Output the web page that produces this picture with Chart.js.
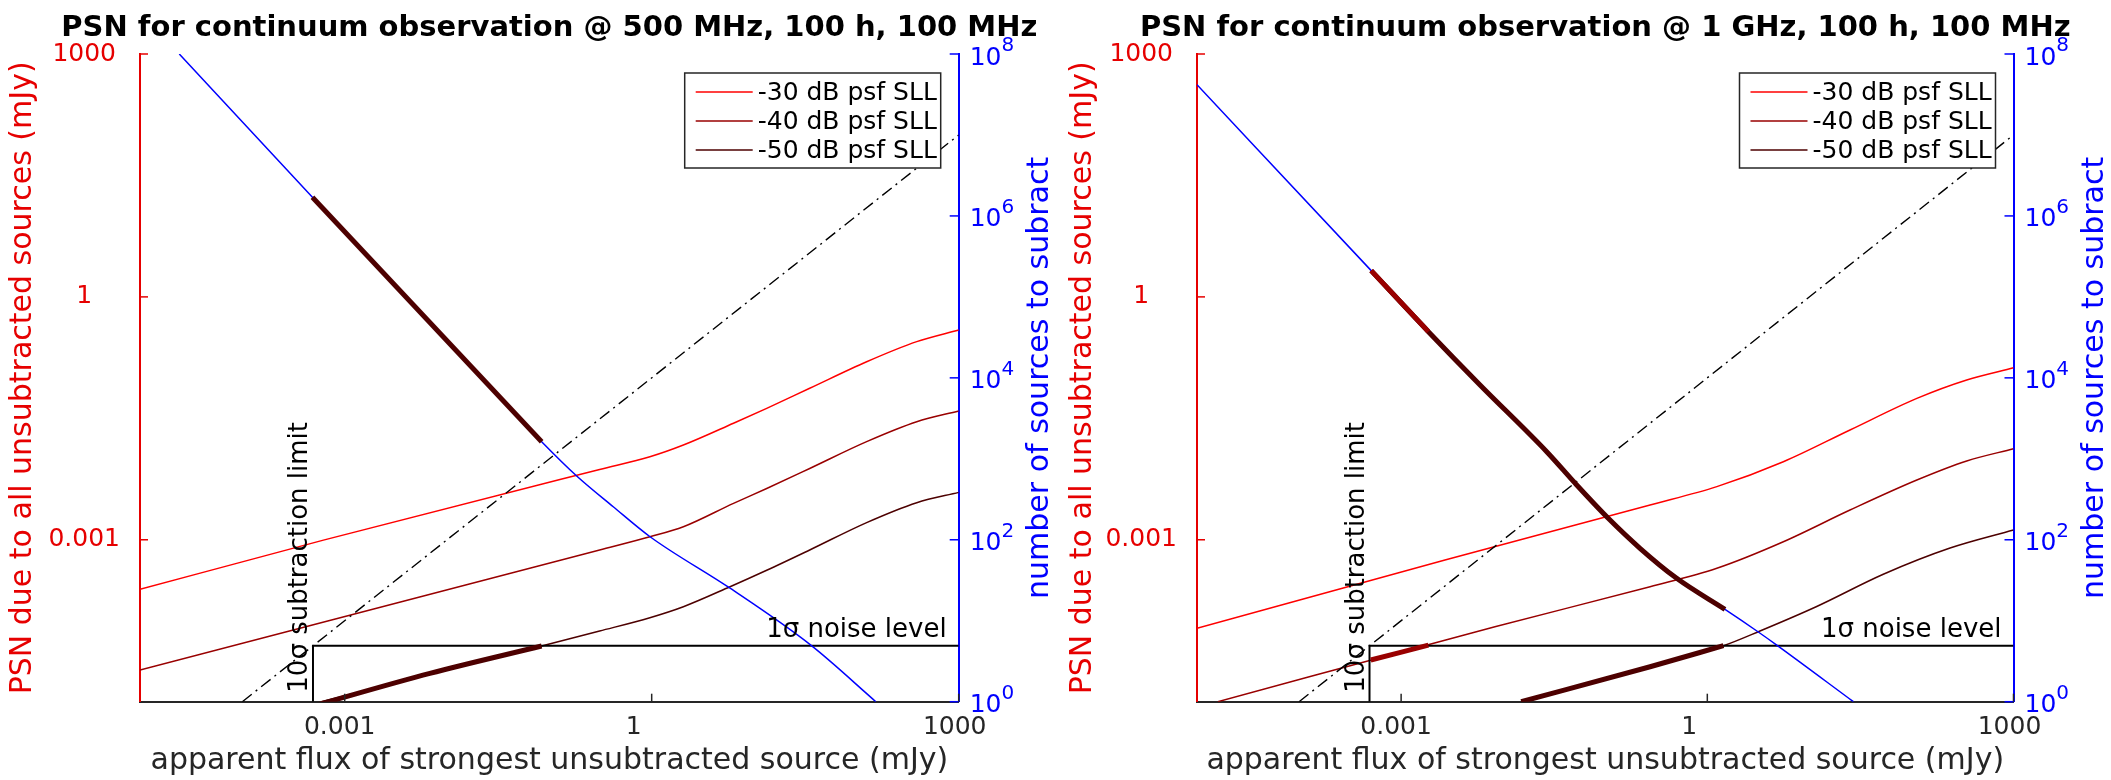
<!DOCTYPE html>
<html>
<head>
<meta charset="utf-8">
<script src="https://cdn.jsdelivr.net/npm/chart.js@4.4.1/dist/chart.umd.min.js"></script>
<style>
    body { margin: 0; background: #fff; }
    #wrap { position: relative; width: 2111px; height: 780px; }
    canvas { position: absolute; top: 0; }
</style>
</head>
<body>
<div id="wrap">
    <canvas id="chart500" width="1058" height="780" style="left:0"></canvas>
    <canvas id="chart1000" width="1053" height="780" style="left:1058px"></canvas>
</div>
<script>
// Valores (flujo en mJy, PSN en mJy, número de fuentes)

// Ejes y etiquetas
const fluxTicks = [0.001, 1, 1000];
const fluxTickLabels = ['0.001', '1', '1000'];
const psnTicks = [0.001, 1, 1000];
const psnTickLabels = ['0.001', '1', '1000'];
const countTicks = [1, 1e2, 1e4, 1e6, 1e8];
const countTickExp = ['0', '2', '4', '6', '8'];

const legendLabels = ['-30 dB psf SLL', '-40 dB psf SLL', '-50 dB psf SLL'];
const xTitle = 'apparent flux of strongest unsubtracted source (mJy)';
const psnTitle = 'PSN due to all unsubtracted sources (mJy)';
const countTitle = 'number of sources to subract';

// Ruido y límite de sustracción
const sigma = 4.9e-5;
const subLimit = 4.9e-4;
const noiseBoxFlux = [subLimit, subLimit, 1000];
const noiseBoxPsn = [1e-5, sigma, sigma];
const fluxDash = [1e-4, 1000];
const psnDash = [1e-5, 100];

/*******
 500 MHz
*******/
const fluxA30 = [1e-5, 6.2e-4, 0.31, 0.96, 2.04, 6.3, 13.3, 35, 126, 389, 1000];
const psnA30 = [2.44e-4, 9.9e-4, 7.4e-3, 0.0106, 0.0148, 0.0275, 0.042, 0.0743, 0.158, 0.280, 0.39];
const fluxA40 = [1e-5, 0.31, 0.96, 2.04, 6.3, 13.3, 35, 126, 389, 1000];
const psnA40 = [2.47e-5, 7.48e-4, 1.09e-3, 1.45e-3, 2.82e-3, 4.3e-3, 7.6e-3, 0.0163, 0.0287, 0.039];
const fluxA50 = [5.9e-4, 0.084, 0.31, 0.96, 2.04, 5.83, 13.3, 35, 126, 389, 1000];
const psnA50 = [1e-5, 4.88e-5, 7.46e-5, 1.09e-4, 1.49e-4, 2.63e-4, 4.2e-4, 7.48e-4, 1.63e-3, 2.87e-3, 3.85e-3];
const fluxA50Thick = [4.84e-4, 6.8e-3, 0.084];
const psnA50Thick = [8.8e-6, 2.24e-5, 4.88e-5];
const fluxANum = [2.42e-5, 4.84e-4, 0.0841, 0.185, 0.421, 0.964, 5.83, 36.4, 155];
const numA = [1e8, 1.70e6, 1627, 614, 256, 109, 25.2, 4.92, 1];
const fluxANumThick = [4.84e-4, 0.0841];
const numAThick = [1.70e6, 1627];

/*******
 1 GHz
*******/
const fluxB30 = [1e-5, 2.69e-3, 0.275, 1.24, 5.56, 25, 113, 348, 1000];
const psnB30 = [8.07e-5, 5.62e-4, 2.69e-3, 4.53e-3, 9.2e-3, 0.0227, 0.0558, 0.0942, 0.133];
const fluxB40 = [1.6e-5, 8.3e-3, 0.275, 1.24, 5.56, 25, 113, 348, 1000];
const psnB40 = [1e-5, 8.43e-5, 2.63e-4, 4.45e-4, 9.46e-4, 2.33e-3, 5.47e-3, 9.4e-3, 0.0133];
const fluxB50 = [0.015, 0.275, 1.44, 3.28, 11.8, 53, 239, 1000];
const psnB50 = [1e-5, 2.7e-5, 4.92e-5, 7.47e-5, 1.5e-4, 3.75e-4, 7.9e-4, 1.32e-3];
const fluxB40Thick = [5.04e-4, 1.85e-3];
const psnB40Thick = [3.27e-5, 5.0e-5];
const fluxB50Thick = [0.015, 0.275, 1.44];
const psnB50Thick = [1e-5, 2.7e-5, 4.92e-5];
const fluxBNum = [1e-5, 5.09e-4, 1.85e-3, 5.93e-3, 0.0267, 0.0525, 0.107, 0.219, 0.501, 1.49, 3.16, 4.79, 27];
const numB = [4.18e7, 2.11e5, 3.72e4, 8166, 1224, 475, 184, 78.5, 33.4, 13.8, 7.26, 5.0, 1];
const fluxBNumThick40 = [5.09e-4, 1.85e-3];
const numBThick40 = [2.11e5, 3.72e4];
const fluxBNumThick50 = [5.09e-4, 1.85e-3, 5.93e-3, 0.0267, 0.0525, 0.107, 0.219, 0.501, 1.49];
const numBThick50 = [2.11e5, 3.72e4, 8166, 1224, 475, 184, 78.5, 33.4, 13.8];

// Colores
const sllColors = ['#ff0000', '#990000', '#4d0000'];
const psnColor = '#e60000';
const countColor = '#0000ff';
const axisGrey = '#262626';
const FONT = '"DejaVu Sans", sans-serif';

// En la figura las etiquetas del eje x quedan algo a la izquierda de su marca
const xLabelNudge = [-5, -18, -4];

Chart.defaults.font.family = FONT;

const pts = (xs, ys) => xs.map((x, i) => ({ x: x, y: ys[i] }));

function serie(xs, ys, color, width, axis, order, extra) {
    return Object.assign({
        data: pts(xs, ys),
        borderColor: color,
        borderWidth: width,
        yAxisID: axis,
        order: order,
        showLine: true,
        pointRadius: 0,
        fill: false,
        borderCapStyle: 'butt',
        cubicInterpolationMode: 'monotone'
    }, extra || {});
}

// Dibujos extra al estilo MATLAB: marcas hacia dentro, título, leyenda, textos
const decor = {
    id: 'decor',
    afterDraw(chart, args, o) {
        const { ctx, chartArea: a, scales } = chart;
        const x = scales.x, y = scales.y, y2 = scales.y2;
        ctx.save();

        const seg = (x1, y1, x2, y2p) => { ctx.beginPath(); ctx.moveTo(x1, y1); ctx.lineTo(x2, y2p); ctx.stroke(); };

        // marcas de los ejes
        ctx.lineWidth = 1.5;
        ctx.strokeStyle = psnColor;
        psnTicks.forEach(v => { const p = y.getPixelForValue(v); seg(a.left, p, a.left + 8, p); });
        ctx.strokeStyle = countColor;
        countTicks.forEach(v => { const p = y2.getPixelForValue(v); seg(a.right, p, a.right - 9, p); });
        ctx.strokeStyle = axisGrey;
        fluxTicks.forEach(v => { const p = x.getPixelForValue(v); seg(p, a.bottom, p, a.bottom - 8); });

        // etiquetas del eje x
        ctx.fillStyle = axisGrey;
        ctx.font = '25px ' + FONT;
        ctx.textAlign = 'center';
        ctx.textBaseline = 'middle';
        fluxTicks.forEach((v, i) => {
            ctx.fillText(fluxTickLabels[i], x.getPixelForValue(v) + xLabelNudge[i], a.bottom + 26);
        });

        // etiquetas 10^n del eje derecho
        ctx.fillStyle = countColor;
        ctx.textAlign = 'left';
        countTicks.forEach((v, i) => {
            const p = y2.getPixelForValue(v);
            ctx.font = '25px ' + FONT;
            ctx.fillText('10', a.right + 11, p + 4);
            const w = ctx.measureText('10').width;
            ctx.font = '20px ' + FONT;
            ctx.fillText(countTickExp[i], a.right + 11 + w, p - 8);
        });

        // título del eje derecho (se lee de abajo hacia arriba)
        ctx.save();
        ctx.translate(a.right + 82, (a.top + a.bottom) / 2);
        ctx.rotate(-Math.PI / 2);
        ctx.font = '30px ' + FONT;
        ctx.textAlign = 'center';
        ctx.fillText(countTitle, 0, 0);
        ctx.restore();

        // título
        ctx.fillStyle = '#000';
        ctx.font = 'bold 29px ' + FONT;
        ctx.textAlign = 'center';
        ctx.textBaseline = 'alphabetic';
        ctx.fillText(o.title, (a.left + a.right) / 2, 36);

        // textos de ruido y límite
        const noiseY = y.getPixelForValue(sigma);
        const limX = x.getPixelForValue(subLimit);
        ctx.font = '26px ' + FONT;
        ctx.textAlign = 'right';
        ctx.fillText('1σ noise level', a.right - 12, noiseY - 9);
        ctx.save();
        ctx.translate(limX - 6, a.bottom - 9);
        ctx.rotate(-Math.PI / 2);
        ctx.textAlign = 'left';
        ctx.fillText('10σ subtraction limit', 0, 0);
        ctx.restore();

        // leyenda
        const bx = a.right - 274, by = a.top + 19, bw = 256, bh = 95;
        ctx.fillStyle = '#fff';
        ctx.fillRect(bx, by, bw, bh);
        ctx.strokeStyle = axisGrey;
        ctx.lineWidth = 1.5;
        ctx.strokeRect(bx, by, bw, bh);
        ctx.font = '25px ' + FONT;
        ctx.textAlign = 'left';
        ctx.textBaseline = 'middle';
        legendLabels.forEach((lab, i) => {
            const ly = by + 19 + i * 29;
            ctx.strokeStyle = sllColors[i];
            ctx.lineWidth = 1.5;
            seg(bx + 11, ly, bx + 68, ly);
            ctx.fillStyle = '#000';
            ctx.fillText(lab, bx + 73, ly + 1);
        });

        ctx.restore();
    }
};

function makeChart(id, box, title, datasets) {
    const ctx = document.getElementById(id).getContext('2d');
    return new Chart(ctx, {
        type: 'scatter',
        data: { datasets: datasets },
        options: {
            responsive: false,
            devicePixelRatio: 1,
            animation: false,
            layout: { padding: { top: 54, left: 0, right: 0, bottom: 0 } },
            scales: {
                x: {
                    type: 'logarithmic',
                    position: 'bottom',
                    min: 1e-5,
                    max: 1000,
                    grid: { display: false, drawTicks: false },
                    border: { display: true, color: axisGrey, width: 2 },
                    afterBuildTicks: s => { s.ticks = fluxTicks.map(v => ({ value: v })); },
                    ticks: { display: false },
                    title: { display: true, text: xTitle, color: axisGrey, font: { size: 30 }, padding: { top: 0, bottom: 1 } },
                    afterFit: s => { s.height = 780 - box.bottom; }
                },
                y: {
                    type: 'logarithmic',
                    position: 'left',
                    min: 1e-5,
                    max: 1000,
                    grid: { display: false, drawTicks: false },
                    border: { display: true, color: psnColor, width: 2 },
                    afterBuildTicks: s => { s.ticks = psnTicks.map(v => ({ value: v })); },
                    ticks: {
                        color: psnColor,
                        font: { size: 25 },
                        crossAlign: 'center',
                        padding: 20,
                        callback: (v, i) => psnTickLabels[i]
                    },
                    title: { display: true, text: psnTitle, color: psnColor, font: { size: 30 }, padding: { top: box.yTitlePad, bottom: 0 } },
                    afterFit: s => { s.width = box.left; }
                },
                y2: {
                    type: 'logarithmic',
                    position: 'right',
                    min: 1,
                    max: 1e8,
                    grid: { display: false, drawTicks: false },
                    border: { display: true, color: countColor, width: 2 },
                    afterBuildTicks: s => { s.ticks = countTicks.map(v => ({ value: v })); },
                    ticks: { display: false },
                    afterFit: s => { s.width = box.width - box.right; }
                }
            },
            plugins: {
                legend: { display: false },
                tooltip: { enabled: false },
                decor: { title: title }
            }
        },
        plugins: [decor]
    });
}

const dashOpts = { borderDash: [12, 5, 2, 5], cubicInterpolationMode: 'default', tension: 0 };
const boxOpts = { cubicInterpolationMode: 'default', tension: 0 };

const chart500 = makeChart('chart500',
    { width: 1058, left: 140, right: 958.7, bottom: 701.7, yTitlePad: 5.5 },
    'PSN for continuum observation @ 500 MHz, 100 h, 100 MHz',
    [
        serie(fluxA30, psnA30, sllColors[0], 1.5, 'y', 6),
        serie(fluxA40, psnA40, sllColors[1], 1.5, 'y', 6),
        serie(fluxA50, psnA50, sllColors[2], 1.5, 'y', 6),
        serie(fluxDash, psnDash, '#000', 1.4, 'y', 5, dashOpts),
        serie(noiseBoxFlux, noiseBoxPsn, '#000', 2, 'y', 4, boxOpts),
        serie(fluxANum, numA, countColor, 1.5, 'y2', 3),
        serie(fluxA50Thick, psnA50Thick, sllColors[2], 5, 'y', 2),
        serie(fluxANumThick, numAThick, sllColors[2], 5, 'y2', 1)
    ]);

const chart1000 = makeChart('chart1000',
    { width: 1053, left: 139, right: 955.5, bottom: 701.7, yTitlePad: 7.7 },
    'PSN for continuum observation @ 1 GHz, 100 h, 100 MHz',
    [
        serie(fluxB30, psnB30, sllColors[0], 1.5, 'y', 6),
        serie(fluxB40, psnB40, sllColors[1], 1.5, 'y', 6),
        serie(fluxB50, psnB50, sllColors[2], 1.5, 'y', 6),
        serie(fluxDash, psnDash, '#000', 1.4, 'y', 5, dashOpts),
        serie(noiseBoxFlux, noiseBoxPsn, '#000', 2, 'y', 4, boxOpts),
        serie(fluxBNum, numB, countColor, 1.5, 'y2', 3),
        serie(fluxB40Thick, psnB40Thick, sllColors[1], 5, 'y', 2),
        serie(fluxB50Thick, psnB50Thick, sllColors[2], 5, 'y', 2),
        serie(fluxBNumThick50, numBThick50, sllColors[2], 5, 'y2', 1),
        serie(fluxBNumThick40, numBThick40, sllColors[1], 5, 'y2', 0)
    ]);
</script>
</body>
</html>
